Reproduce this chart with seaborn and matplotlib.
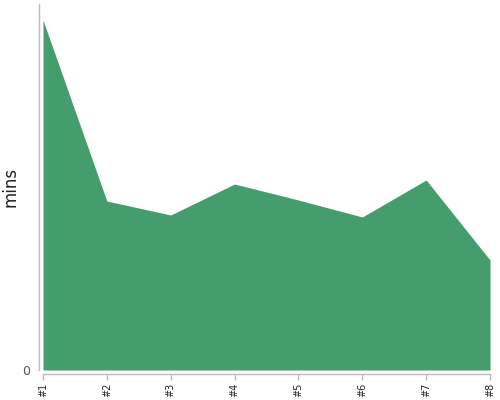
import pandas as pd
import matplotlib
matplotlib.use("Agg")
import matplotlib.pyplot as plt
import seaborn as sns

labels = ["#1", "#2", "#3", "#4", "#5", "#6", "#7", "#8"]
mins = [35.0, 16.9, 15.5, 18.6, 17.0, 15.3, 19.0, 11.0]

data = pd.DataFrame({"run": range(len(labels)), "mins": mins})
green = "#459d6d"

sns.set_style("white")
fig = plt.figure(figsize=(5, 4), dpi=100)
ax = fig.add_axes([0.086, 0.075, 0.894, 0.915])

sns.lineplot(data=data, x="run", y="mins", color=green, linewidth=0, ax=ax)
ax.fill_between(data["run"], 0, data["mins"], color=green, linewidth=0)

# despine first: offsetting the spines resets tick styling
sns.despine(ax=ax, offset=3)
for s in ["left", "bottom"]:
    ax.spines[s].set_color("#bbbbbb")
    ax.spines[s].set_linewidth(1)

ax.set_xlim(0, len(labels) - 1)
ax.set_ylim(0, 36.6)
ax.set_xticks(data["run"])
ax.set_xticklabels(labels, rotation=90, fontsize=7)
ax.set_yticks([0])
ax.set_yticklabels(["0"], fontsize=9, color="#555555")
ax.tick_params(axis="x", bottom=True, length=4, width=1, color="#bbbbbb", pad=2)
ax.tick_params(axis="y", left=False, length=0, pad=6)
ax.set_xlabel("")
ax.set_ylabel("mins", fontsize=12, color="#222222")
ax.yaxis.set_label_coords(-0.052, 0.5)

fig.savefig("out.png", dpi=100)
